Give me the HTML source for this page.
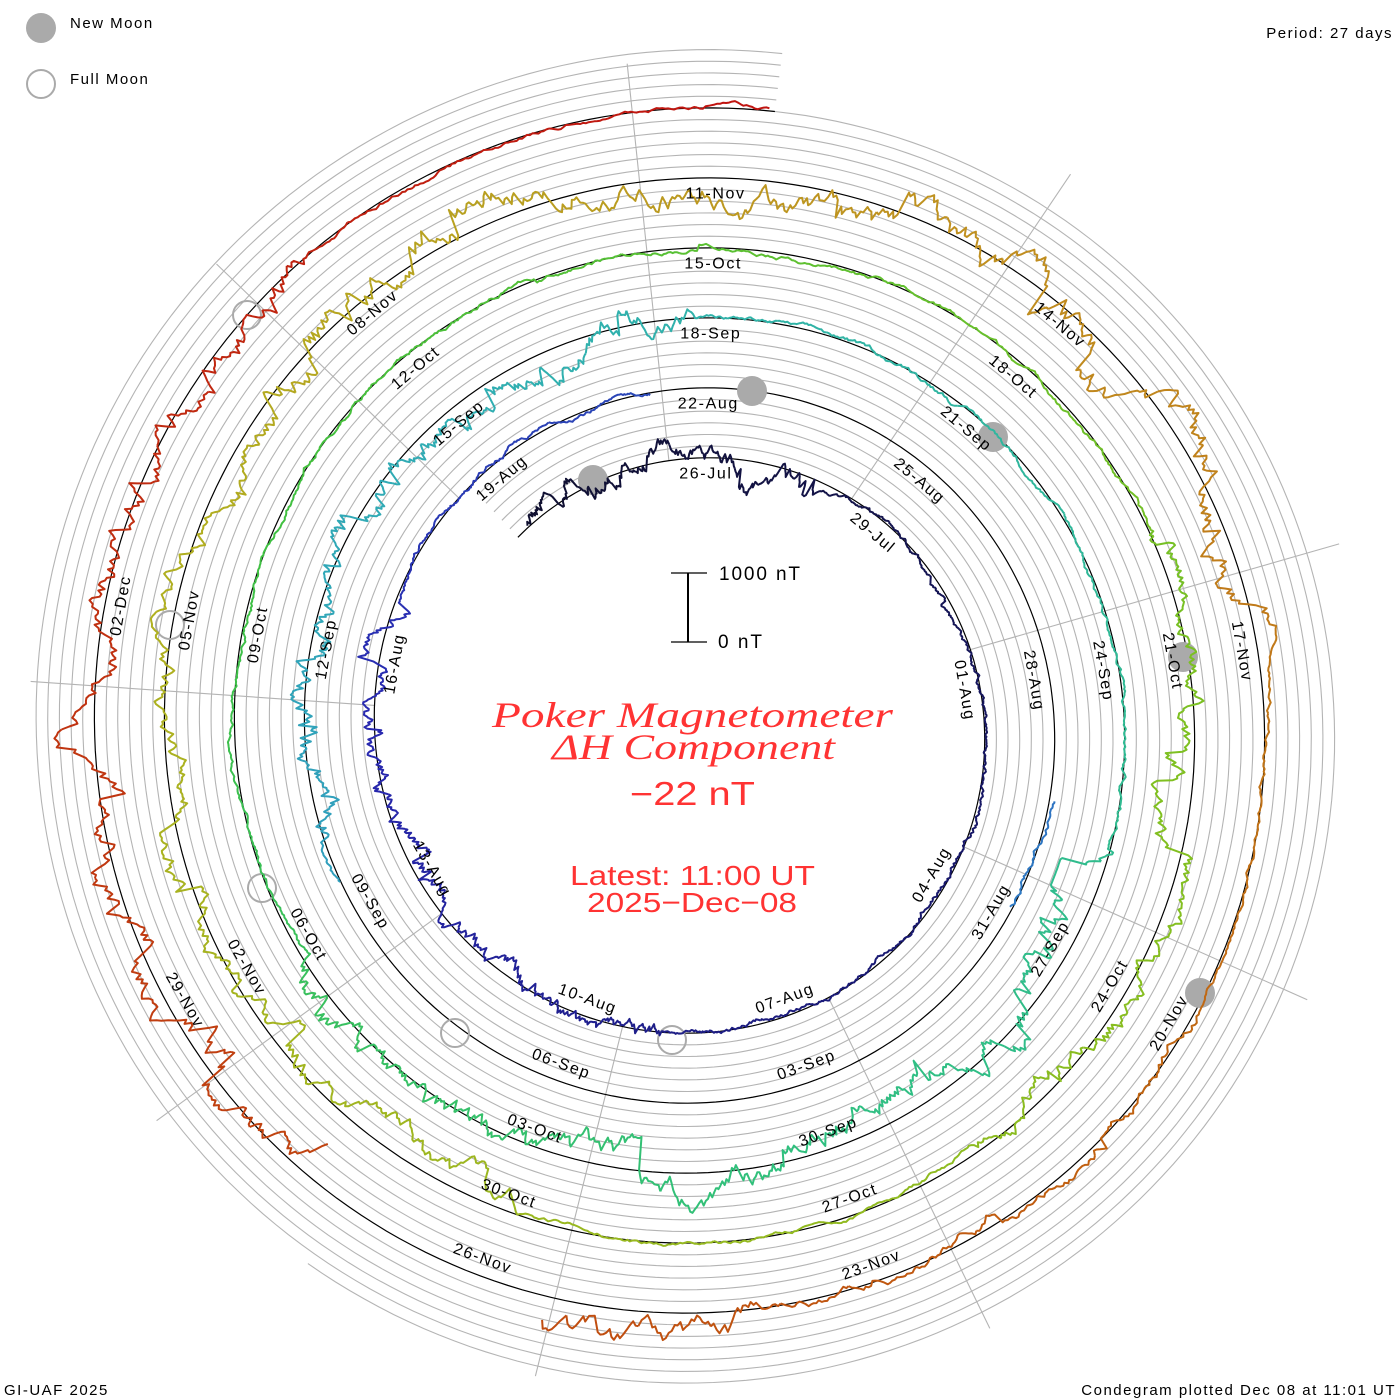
<!DOCTYPE html>
<html><head><meta charset="utf-8">
<style>
html,body{margin:0;padding:0;background:#fff;}
svg{display:block;}
.d{font-family:"Liberation Sans",sans-serif;font-size:16px;letter-spacing:1.6px;fill:#000;}
.t{font-family:"Liberation Sans",sans-serif;font-size:15px;letter-spacing:1.5px;fill:#000;}
</style></head>
<body>
<svg id="s" width="1400" height="1400" viewBox="0 0 1400 1400" xmlns="http://www.w3.org/2000/svg">
<g id="grid"></g>
<g id="base"></g>
<g id="moons">
<circle cx="593" cy="480" r="15" fill="#aaa"/>
<circle cx="752" cy="391" r="15" fill="#aaa"/>
<circle cx="993" cy="437" r="15" fill="#aaa"/>
<circle cx="1183" cy="657" r="15" fill="#aaa"/>
<circle cx="1200" cy="993" r="15" fill="#aaa"/>
<circle cx="247" cy="315" r="14" fill="none" stroke="#aaa" stroke-width="2"/>
<circle cx="170" cy="625" r="14" fill="none" stroke="#aaa" stroke-width="2"/>
<circle cx="262" cy="888" r="14" fill="none" stroke="#aaa" stroke-width="2"/>
<circle cx="455" cy="1033" r="14" fill="none" stroke="#aaa" stroke-width="2"/>
<circle cx="672" cy="1040" r="14" fill="none" stroke="#aaa" stroke-width="2"/>
</g>
<g id="trace"></g>
<g id="labels">
<text class="d">26-Jul</text><text class="d">29-Jul</text><text class="d">01-Aug</text><text class="d">04-Aug</text><text class="d">07-Aug</text><text class="d">10-Aug</text><text class="d">13-Aug</text><text class="d">16-Aug</text><text class="d">19-Aug</text>
<text class="d">22-Aug</text><text class="d">25-Aug</text><text class="d">28-Aug</text><text class="d">31-Aug</text><text class="d">03-Sep</text><text class="d">06-Sep</text><text class="d">09-Sep</text><text class="d">12-Sep</text><text class="d">15-Sep</text>
<text class="d">18-Sep</text><text class="d">21-Sep</text><text class="d">24-Sep</text><text class="d">27-Sep</text><text class="d">30-Sep</text><text class="d">03-Oct</text><text class="d">06-Oct</text><text class="d">09-Oct</text><text class="d">12-Oct</text>
<text class="d">15-Oct</text><text class="d">18-Oct</text><text class="d">21-Oct</text><text class="d">24-Oct</text><text class="d">27-Oct</text><text class="d">30-Oct</text><text class="d">02-Nov</text><text class="d">05-Nov</text><text class="d">08-Nov</text>
<text class="d">11-Nov</text><text class="d">14-Nov</text><text class="d">17-Nov</text><text class="d">20-Nov</text><text class="d">23-Nov</text><text class="d">26-Nov</text><text class="d">29-Nov</text><text class="d">02-Dec</text>
</g>
<!-- legend -->
<circle cx="41" cy="28" r="15" fill="#aaa"/>
<circle cx="41" cy="84" r="14" fill="none" stroke="#aaa" stroke-width="2"/>
<text class="t" x="70" y="28">New Moon</text>
<text class="t" x="70" y="84">Full Moon</text>
<text class="t" x="1393" y="38" text-anchor="end">Period: 27 days</text>
<text class="t" x="4" y="1395">GI-UAF 2025</text>
<text class="t" x="1396" y="1395" text-anchor="end">Condegram plotted Dec 08 at 11:01 UT</text>
<!-- scale bar -->
<line x1="688" y1="573" x2="688" y2="642" stroke="#000" stroke-width="2"/>
<line x1="671" y1="573" x2="707" y2="573" stroke="#000" stroke-width="1.2"/>
<line x1="671" y1="642" x2="707" y2="642" stroke="#000" stroke-width="1.2"/>
<text x="719" y="580" font-family="Liberation Sans,sans-serif" font-size="19" textLength="81" fill="#000">1000 nT</text>
<text x="718" y="648" font-family="Liberation Sans,sans-serif" font-size="19" textLength="44" fill="#000">0 nT</text>
<!-- title -->
<text x="492" y="727" textLength="401" lengthAdjust="spacingAndGlyphs" font-family="Liberation Serif,serif" font-style="italic" font-size="36" fill="#ff3333">Poker Magnetometer</text>
<text x="552" y="759" textLength="283" lengthAdjust="spacingAndGlyphs" font-family="Liberation Serif,serif" font-style="italic" font-size="36" fill="#ff3333">ΔH Component</text>
<text x="630" y="805" textLength="125" lengthAdjust="spacingAndGlyphs" font-family="Liberation Sans,sans-serif" font-size="33" fill="#ff3333">−22 nT</text>
<text x="570" y="885" textLength="245" lengthAdjust="spacingAndGlyphs" font-family="Liberation Sans,sans-serif" font-size="28" fill="#ff3333">Latest: 11:00 UT</text>
<text x="587" y="912" textLength="210" lengthAdjust="spacingAndGlyphs" font-family="Liberation Sans,sans-serif" font-size="28" fill="#ff3333">2025−Dec−08</text>
</svg>
<script>
(function(){
var NS="http://www.w3.org/2000/svg";
var CX=697,CY=728,R0=270,STEP=70,P=27;
function pt(th,r){return [CX+r*Math.sin(th),CY-r*Math.cos(th)];}
function el(tag,attrs,parent){var e=document.createElementNS(NS,tag);for(var k in attrs)e.setAttribute(k,attrs[k]);parent.appendChild(e);return e;}
var grid=document.getElementById('grid'),base=document.getElementById('base'),tr=document.getElementById('trace');
function spiral(t0,t1,off,maxr){
  var d="",first=true;
  for(var t=t0;t<=t1+1e-9;t+=0.004){
    var r=R0+STEP*t+off; if(maxr&&r>maxr){first=true;continue;}
    var p=pt(t*2*Math.PI,r); d+=(first?"M":"L")+p[0].toFixed(1)+" "+p[1].toFixed(1); first=false;
  }
  return d;
}
var g=70/6;
for(var k=1;k<=5;k++) el('path',{d:spiral(-0.12,5.02,k*g),fill:'none',stroke:'#b4b4b4','stroke-width':1.1},grid);
el('path',{d:spiral(4.0,5.02,6*g,662),fill:'none',stroke:'#b4b4b4','stroke-width':1.1},grid);
for(var i=0;i<9;i++){
  var a=-6+40*i; var th=a*Math.PI/180;
  var ri=R0+STEP*(a/360); var p1=pt(th,ri),p2=pt(th,668);
  el('line',{x1:p1[0],y1:p1[1],x2:p2[0],y2:p2[1],stroke:'#b4b4b4','stroke-width':1.1},grid);
}
el('path',{d:spiral(-0.12,5.02,0),fill:'none',stroke:'#000','stroke-width':1.2},base);
var labs=document.querySelectorAll('#labels text');
for(var i=0;i<labs.length;i++){
  var s=i*3, t=s/P, th=t*2*Math.PI+2*Math.PI/180;
  var r=R0+STEP*t-16; var p=pt(th,r);
  var deg=((t*360)%360+360)%360; var rot=deg; if(deg>90&&deg<270) rot=deg-180; if(deg>=270) rot=deg-360;
  var L=labs[i]; L.setAttribute('x',p[0].toFixed(1)); L.setAttribute('y',p[1].toFixed(1));
  L.setAttribute('text-anchor','middle'); L.setAttribute('dominant-baseline','middle');
  L.setAttribute('transform','rotate('+rot.toFixed(1)+' '+p[0].toFixed(1)+' '+p[1].toFixed(1)+')');
}
var stops=[[-3,[16,16,48]],[10,[24,24,112]],[20,[40,40,176]],[40,[48,144,200]],[52,[48,176,176]],[66,[48,192,128]],[76,[64,192,64]],[88,[128,192,32]],[102,[176,176,32]],[110,[192,144,32]],[118,[192,96,16]],[136,[192,16,16]]];
function col(s){for(var i=0;i<stops.length-1;i++){if(s<=stops[i+1][0]){var f=(s-stops[i][0])/(stops[i+1][0]-stops[i][0]);f=Math.max(0,Math.min(1,f));var a=stops[i][1],b=stops[i+1][1];return 'rgb('+Math.round(a[0]+(b[0]-a[0])*f)+','+Math.round(a[1]+(b[1]-a[1])*f)+','+Math.round(a[2]+(b[2]-a[2])*f)+')';}}return 'rgb(192,16,16)';}
var seed=12345;function rnd(){seed=(seed*1103515245+12345)&0x7fffffff;return seed/0x7fffffff;}
function activity(s){
  var a=3;
  if(s<2)a=12; if(s>14&&s<22)a=10; if(s>46&&s<54)a=14; if(s>62&&s<72)a=16;
  if(s>86&&s<92)a=12; if(s>96&&s<104)a=12; if(s>104&&s<114)a=18; if(s>117&&s<121)a=6;
  if(s>121&&s<132)a=16; return a;
}
function gap(s){return (s>26.4&&s<34.6)||(s>36&&s<45.5)||(s>122.6&&s<124.6);}
var v=0,dt=0.02,seg=[],cur=null;
for(var s=-3;s<=135.5;s+=dt){
  var a=activity(s);
  v+= -v*0.05 + (rnd()-0.5)*a*0.9;
  if(rnd()<0.005*a/4) v+= (rnd()-0.5)*a*4;
  var vv=Math.max(-45,Math.min(45,v));
  if(gap(s)){cur=null;continue;}
  var t=s/P, p=pt(t*2*Math.PI,R0+STEP*t+vv);
  var c=col(s);
  if(!cur||cur.n>25){var last=cur?cur.last:null;cur={d:last?("M"+last):"",n:0,c:c};seg.push(cur);}
  var ps=p[0].toFixed(1)+" "+p[1].toFixed(1);
  cur.d+=(cur.d?"L":"M")+ps; cur.last=ps; cur.n++;
}
for(var i=0;i<seg.length;i++) el('path',{d:seg[i].d,fill:'none',stroke:seg[i].c,'stroke-width':2,'stroke-linejoin':'round'},tr);
})();
</script>
</body></html>
